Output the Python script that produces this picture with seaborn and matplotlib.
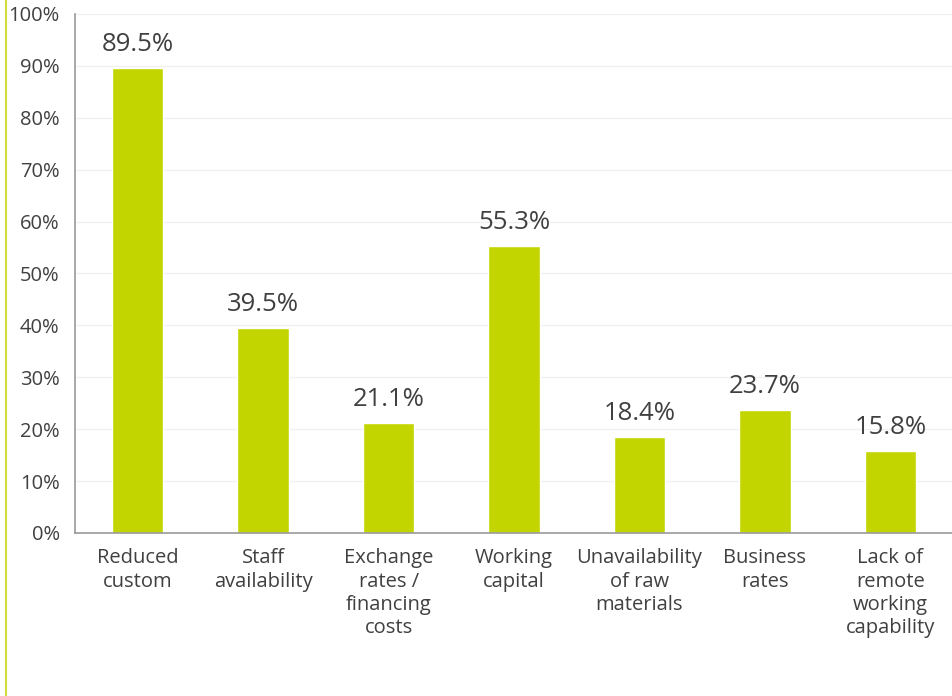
import matplotlib
matplotlib.use("Agg")
import matplotlib.pyplot as plt
import matplotlib.ticker as mticker
from matplotlib.lines import Line2D
import seaborn as sns
import pandas as pd

categories = [
    "Reduced\ncustom",
    "Staff\navailability",
    "Exchange\nrates /\nfinancing\ncosts",
    "Working\ncapital",
    "Unavailability\nof raw\nmaterials",
    "Business\nrates",
    "Lack of\nremote\nworking\ncapability",
]
values = [89.5, 39.5, 21.1, 55.3, 18.4, 23.7, 15.8]

df = pd.DataFrame({"category": categories, "value": values})

sns.set_theme(style="white")
plt.rcParams["font.family"] = ["Open Sans", "DejaVu Sans"]

text_color = "#404040"
bar_color = "#c3d500"

fig = plt.figure(figsize=(9.53, 6.96), dpi=100)
ax = fig.add_axes([0.0787, 0.2342, 0.9213, 0.7457])

sns.barplot(data=df, x="category", y="value", color=bar_color,
            width=0.41, saturation=1, ax=ax)

ax.set_ylim(0, 100)
ax.set_xlim(-0.5, len(categories) - 0.5)
ax.yaxis.set_major_locator(mticker.MultipleLocator(10))
ax.yaxis.set_major_formatter(mticker.FuncFormatter(lambda v, _: f"{v:.0f}%"))
ax.grid(axis="y", color="#f0f0f0", linewidth=1)
ax.set_axisbelow(True)

for s in ["top", "right"]:
    ax.spines[s].set_visible(False)
for s in ["left", "bottom"]:
    ax.spines[s].set_color("#9a9a9a")
    ax.spines[s].set_linewidth(1.2)

ax.set_xlabel("")
ax.set_ylabel("")
ax.tick_params(axis="y", labelsize=14.5, colors=text_color, length=5,
               width=1, color="#9a9a9a", pad=6)
ax.tick_params(axis="x", labelsize=14.5, colors=text_color, length=0, pad=11)
for lbl in ax.get_xticklabels():
    lbl.set_linespacing(1.22)

# category separator ticks on the x axis
ax.xaxis.set_minor_locator(mticker.FixedLocator(
    [i - 0.5 for i in range(len(categories) + 1)]))
ax.tick_params(axis="x", which="minor", length=6, width=1, color="#9a9a9a")

for i, v in enumerate(values):
    ax.text(i, v + 4.6, f"{v:.1f}%", ha="center", va="center",
            fontsize=18.5, color=text_color)

# decorative vertical rule on the left edge
fig.add_artist(Line2D([0.0068, 0.0068], [0, 1], transform=fig.transFigure,
                      color="#cfdc3a", linewidth=1.5))

fig.savefig("out.png", dpi=100)
